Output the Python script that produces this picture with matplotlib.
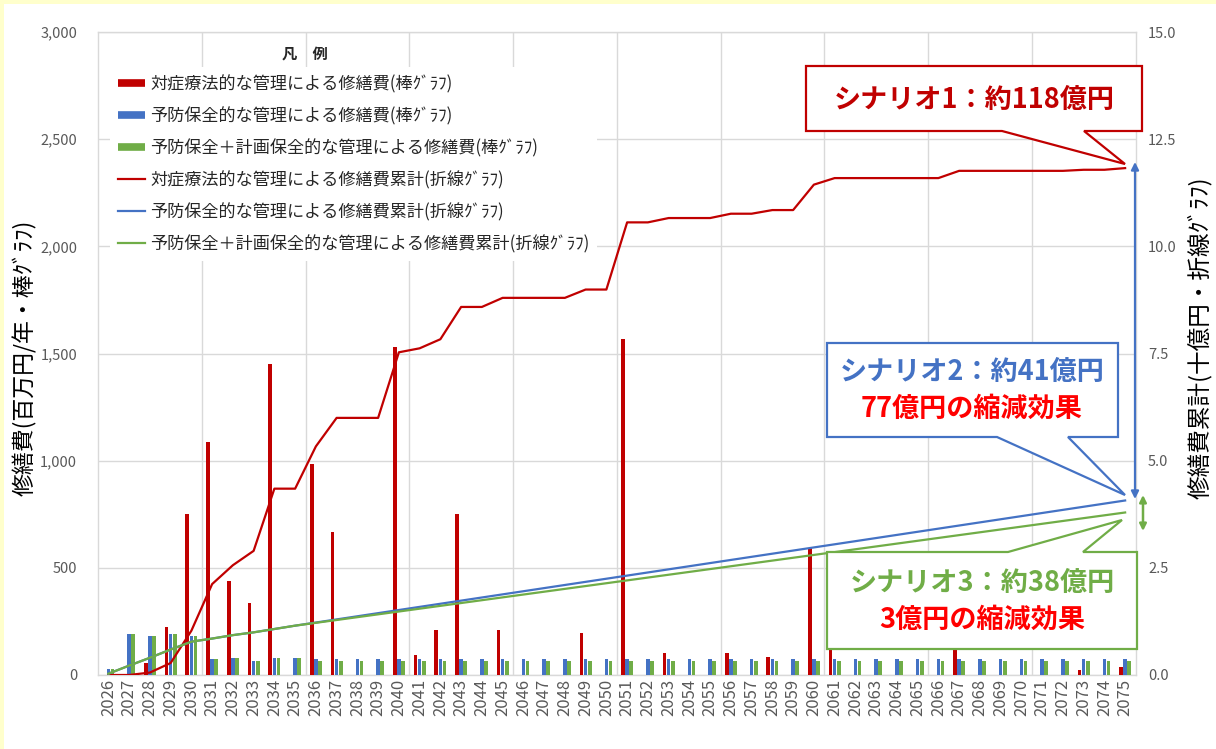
import matplotlib
matplotlib.use('Agg')
import matplotlib.pyplot as plt
from matplotlib.patches import Polygon, Rectangle, FancyArrowPatch
from matplotlib.lines import Line2D
import numpy as np

plt.rcParams['font.family'] = ['Noto Sans CJK JP', 'DejaVu Sans']

# ---------------- data ----------------
years = [str(y) for y in range(2026, 2076)]

# annual repair cost (million yen / year) - bars
cost_reactive = [0, 0, 57, 223, 753, 1088, 440, 335, 1451, 0,
                 986, 665, 0, 0, 1530, 93, 212, 753, 0, 212,
                 0, 0, 0, 194, 0, 1567, 0, 101, 0, 0,
                 101, 0, 85, 0, 593, 153, 0, 0, 0, 0,
                 0, 169, 0, 0, 0, 0, 0, 25, 0, 39]
cost_preventive = [30, 189, 183, 192, 183, 73, 80, 65, 78, 78,
                   73, 73, 73, 73, 73, 73, 73, 73, 73, 73,
                   73, 73, 73, 73, 73, 73, 73, 73, 73, 73,
                   73, 73, 73, 73, 73, 73, 73, 73, 73, 73,
                   73, 73, 73, 73, 73, 73, 73, 73, 73, 73]
cost_planned = [30, 189, 183, 192, 183, 73, 80, 65, 78, 78,
                66, 66, 66, 66, 66, 66, 66, 66, 66, 66,
                66, 66, 66, 66, 66, 66, 66, 66, 66, 66,
                66, 66, 66, 66, 66, 66, 66, 66, 66, 66,
                66, 66, 66, 66, 66, 66, 66, 66, 66, 66]

# cumulative repair cost (十億円) - lines
cum_reactive = [0.000, 0.000, 0.057, 0.280, 1.033, 2.121, 2.561, 2.896, 4.347, 4.347,
                5.333, 5.998, 5.998, 5.998, 7.528, 7.621, 7.833, 8.586, 8.586, 8.798,
                8.798, 8.798, 8.798, 8.992, 8.992, 10.559, 10.559, 10.660, 10.660, 10.660,
                10.761, 10.761, 10.846, 10.846, 11.439, 11.592, 11.592, 11.592, 11.592, 11.592,
                11.592, 11.761, 11.761, 11.761, 11.761, 11.761, 11.761, 11.786, 11.786, 11.825]
cum_preventive = [0.030, 0.219, 0.402, 0.594, 0.777, 0.850, 0.930, 0.995, 1.073, 1.151,
                  1.224, 1.297, 1.370, 1.443, 1.516, 1.589, 1.662, 1.735, 1.808, 1.881,
                  1.954, 2.027, 2.100, 2.173, 2.246, 2.319, 2.392, 2.465, 2.538, 2.611,
                  2.684, 2.757, 2.830, 2.903, 2.976, 3.049, 3.122, 3.195, 3.268, 3.341,
                  3.414, 3.487, 3.560, 3.633, 3.706, 3.779, 3.852, 3.925, 3.998, 4.071]
cum_planned = [0.030, 0.219, 0.402, 0.594, 0.777, 0.850, 0.930, 0.995, 1.073, 1.151,
               1.217, 1.283, 1.349, 1.415, 1.481, 1.547, 1.613, 1.679, 1.745, 1.811,
               1.877, 1.943, 2.009, 2.075, 2.141, 2.207, 2.273, 2.339, 2.405, 2.471,
               2.537, 2.603, 2.669, 2.735, 2.801, 2.867, 2.933, 2.999, 3.065, 3.131,
               3.197, 3.263, 3.329, 3.395, 3.461, 3.527, 3.593, 3.659, 3.725, 3.791]

labels = ['対症療法的な管理による修繕費(棒ｸﾞﾗﾌ)',
          '予防保全的な管理による修繕費(棒ｸﾞﾗﾌ)',
          '予防保全＋計画保全的な管理による修繕費(棒ｸﾞﾗﾌ)',
          '対症療法的な管理による修繕費累計(折線ｸﾞﾗﾌ)',
          '予防保全的な管理による修繕費累計(折線ｸﾞﾗﾌ)',
          '予防保全＋計画保全的な管理による修繕費累計(折線ｸﾞﾗﾌ)']

RED, BLUE, GREEN = '#C00000', '#4472C4', '#70AD47'
GRID = '#D9D9D9'
TICK = '#595959'

# ---------------- figure ----------------
W, H = 1216, 749
fig = plt.figure(figsize=(W / 100, H / 100), dpi=100)
fig.patch.set_facecolor('#FFFFCC')
fig.add_artist(Rectangle((4 / W, 0), 1, 1 - 4 / H, transform=fig.transFigure,
                         facecolor='white', edgecolor='none', zorder=-10))


def P(x, y):
    return (x / W, 1 - y / H)


L, R, T, B = 98, 1135.5, 32, 675
ax = fig.add_axes([L / W, 1 - B / H, (R - L) / W, (B - T) / H])
ax.set_facecolor('none')
x = np.arange(len(years))
bw = 0.18
ax.bar(x - 0.2, cost_reactive, bw, color=RED, zorder=3)
ax.bar(x, cost_preventive, bw, color=BLUE, zorder=3)
ax.bar(x + 0.2, cost_planned, bw, color=GREEN, zorder=3)

ax.set_xlim(-0.5, len(years) - 0.5)
ax.set_ylim(0, 3000)
ax.set_yticks(np.arange(0, 3001, 500))
ax.set_yticklabels([f'{v:,}' for v in range(0, 3001, 500)])
ax.set_xticks(x)
ax.set_xticklabels(years, rotation=90)
ax.set_xticks(np.arange(4.5, 49, 5), minor=True)
ax.tick_params(axis='x', which='both', length=0, pad=3, labelsize=12, labelcolor=TICK)
ax.tick_params(axis='y', length=0, pad=15, labelsize=10.5, labelcolor=TICK)
ax.yaxis.grid(True, color=GRID, lw=1)
ax.xaxis.grid(True, which='minor', color=GRID, lw=1)
ax.set_axisbelow(True)
for s in ax.spines.values():
    s.set_color(GRID)
    s.set_linewidth(1)

ax2 = ax.twinx()
ax2.plot(x, cum_reactive, color=RED, lw=1.6, zorder=4)
ax2.plot(x, cum_preventive, color=BLUE, lw=1.6, zorder=4)
ax2.plot(x, cum_planned, color=GREEN, lw=1.6, zorder=4)
ax2.set_ylim(0, 15)
ax2.set_yticks(np.arange(0, 15.1, 2.5))
ax2.set_yticklabels([f'{v:.1f}' for v in np.arange(0, 15.1, 2.5)])
ax2.tick_params(axis='y', length=0, pad=9, labelsize=10.5, labelcolor=TICK)
for s in ax2.spines.values():
    s.set_visible(False)

# axis titles
fig.text(25 / W, 1 - 358 / H, '修繕費(百万円/年・棒ｸﾞﾗﾌ)', rotation=90,
         ha='center', va='center', fontsize=16.5, color='black')
fig.text(1200 / W, 1 - 338 / H, '修繕費累計(十億円・折線ｸﾞﾗﾌ)', rotation=90,
         ha='center', va='center', fontsize=17, color='black')

# legend
handles = [Line2D([0], [0], color=RED, lw=5.5, solid_capstyle='butt'),
           Line2D([0], [0], color=BLUE, lw=5.5, solid_capstyle='butt'),
           Line2D([0], [0], color=GREEN, lw=5.5, solid_capstyle='butt'),
           Line2D([0], [0], color=RED, lw=1.6),
           Line2D([0], [0], color=BLUE, lw=1.6),
           Line2D([0], [0], color=GREEN, lw=1.6)]
leg = ax2.legend(handles, labels, loc='upper left', bbox_to_anchor=P(110, 67),
                 bbox_transform=fig.transFigure, fontsize=12.3, handlelength=1.6,
                 handletextpad=0.3, labelspacing=0.8, borderpad=0.45,
                 borderaxespad=0, frameon=True, fancybox=False)
leg.get_frame().set_edgecolor('none')
leg.get_frame().set_facecolor('white')
leg.get_frame().set_alpha(1)
for t in leg.get_texts():
    t.set_color('#262626')
fig.text(305 / W, 1 - 54 / H, '凡\u3000例', ha='center', va='center',
         fontsize=11, fontweight='bold', color='#262626')

# callouts
def callout(verts, ec):
    fig.add_artist(Polygon([P(*v) for v in verts], closed=True, transform=fig.transFigure,
                           facecolor='white', edgecolor=ec, lw=1.6, zorder=10))

callout([(806, 66), (1142, 66), (1142, 131), (1084, 131), (1125, 164),
         (1002, 131), (806, 131)], RED)
fig.text(974 / W, 1 - 100 / H, 'シナリオ1：約118億円', ha='center', va='center',
         fontsize=19.5, fontweight='bold', color=RED, zorder=11)

callout([(827, 343), (1118, 343), (1118, 437), (1068, 437), (1125, 495),
         (997, 437), (827, 437)], BLUE)
fig.text(972 / W, 1 - 372 / H, 'シナリオ2：約41億円', ha='center', va='center',
         fontsize=19.5, fontweight='bold', color=BLUE, zorder=11)
fig.text(972 / W, 1 - 409 / H, '77億円の縮減効果', ha='center', va='center',
         fontsize=19.5, fontweight='bold', color='#FF0000', zorder=11)

callout([(827, 552), (1008, 552), (1122, 520), (1083, 552), (1137, 552),
         (1137, 649), (827, 649)], GREEN)
fig.text(982 / W, 1 - 583 / H, 'シナリオ3：約38億円', ha='center', va='center',
         fontsize=19.5, fontweight='bold', color=GREEN, zorder=11)
fig.text(982 / W, 1 - 620 / H, '3億円の縮減効果', ha='center', va='center',
         fontsize=19.5, fontweight='bold', color='#FF0000', zorder=11)

# double arrows
fig.add_artist(FancyArrowPatch(P(1135, 162), P(1135, 499), transform=fig.transFigure,
                               arrowstyle='<|-|>', mutation_scale=11, color=BLUE,
                               lw=1.6, zorder=12, shrinkA=0, shrinkB=0))
fig.add_artist(FancyArrowPatch(P(1143, 495), P(1143, 531), transform=fig.transFigure,
                               arrowstyle='<|-|>', mutation_scale=10, color=GREEN,
                               lw=1.8, zorder=12, shrinkA=0, shrinkB=0))

fig.savefig('out.png', dpi=100, facecolor=fig.get_facecolor())
